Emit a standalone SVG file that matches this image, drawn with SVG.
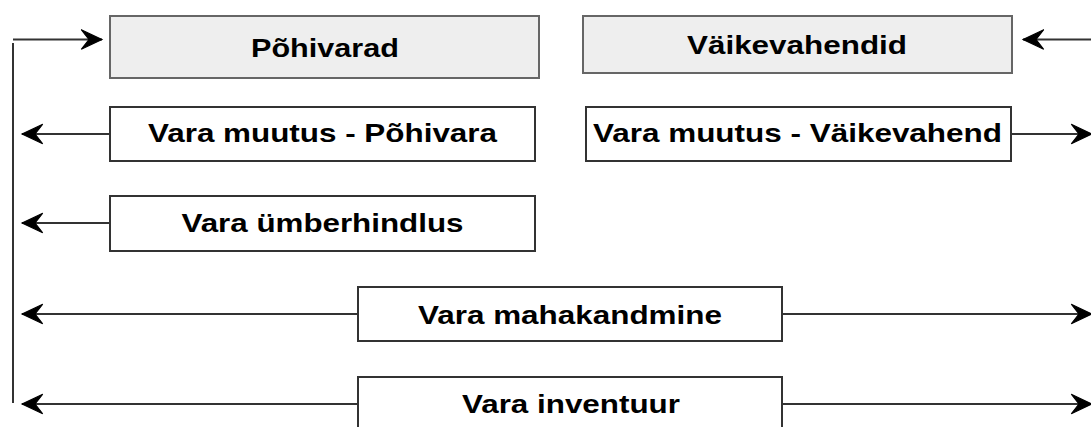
<svg xmlns="http://www.w3.org/2000/svg" width="1091" height="427" viewBox="0 0 1091 427">
<style>
.gray{fill:#eeeeee;stroke:#666666;stroke-width:2}
.white{fill:#ffffff;stroke:#333333;stroke-width:2}
.lbl{font-family:"Liberation Sans",Arial,sans-serif;font-weight:bold;font-size:26px;fill:#000000;text-anchor:middle}
.con{fill:none;stroke:#333333;stroke-width:2}
</style>
<defs>
<marker id="arr" markerUnits="userSpaceOnUse" markerWidth="24" markerHeight="24" viewBox="-20 -10 22 20" refX="0" refY="0" orient="auto">
<path d="M0,0 L-19,-9 L-12,0 L-19,9 Z" fill="#000000" stroke="#000000" stroke-width="1" stroke-linejoin="miter"/>
</marker>
</defs>
<rect width="1091" height="427" fill="#ffffff"/>
<g id="connectors">
<path class="con" d="M13,403 L13,43"/>
<path class="con" d="M13,39.5 L102,39.5" marker-end="url(#arr)"/>
<path class="con" d="M1091,39.5 L1023,39.5" marker-end="url(#arr)"/>
<path class="con" d="M110,134 L22,134" marker-end="url(#arr)"/>
<path class="con" d="M1011,134 L1092,134" marker-end="url(#arr)"/>
<path class="con" d="M110,223 L22,223" marker-end="url(#arr)"/>
<path class="con" d="M358,314 L22,314" marker-end="url(#arr)"/>
<path class="con" d="M782,314 L1092,314" marker-end="url(#arr)"/>
<path class="con" d="M358,404 L22,404" marker-end="url(#arr)"/>
<path class="con" d="M782,404 L1092,404" marker-end="url(#arr)"/>
</g>
<g id="pohivarad">
<rect class="gray" x="110" y="16" width="429" height="62"/>
<text class="lbl" x="325" y="57" textLength="148" lengthAdjust="spacingAndGlyphs">Põhivarad</text>
</g>
<g id="vaikevahendid">
<rect class="gray" x="583" y="16" width="429" height="57"/>
<text class="lbl" x="797" y="54" textLength="220" lengthAdjust="spacingAndGlyphs">Väikevahendid</text>
</g>
<g id="vara-muutus-pohivara">
<rect class="white" x="110" y="107" width="425" height="54"/>
<text class="lbl" x="322.5" y="142" textLength="349" lengthAdjust="spacingAndGlyphs">Vara muutus - Põhivara</text>
</g>
<g id="vara-muutus-vaikevahend">
<rect class="white" x="586" y="107" width="425" height="54"/>
<text class="lbl" x="797.5" y="142" textLength="409" lengthAdjust="spacingAndGlyphs">Vara muutus - Väikevahend</text>
</g>
<g id="vara-umberhindlus">
<rect class="white" x="110" y="196" width="425" height="55"/>
<text class="lbl" x="322.5" y="232" textLength="282" lengthAdjust="spacingAndGlyphs">Vara ümberhindlus</text>
</g>
<g id="vara-mahakandmine">
<rect class="white" x="358" y="287" width="424" height="54"/>
<text class="lbl" x="570" y="324" textLength="304" lengthAdjust="spacingAndGlyphs">Vara mahakandmine</text>
</g>
<g id="vara-inventuur">
<rect class="white" x="358" y="377" width="424" height="54"/>
<text class="lbl" x="571" y="413" textLength="218" lengthAdjust="spacingAndGlyphs">Vara inventuur</text>
</g>
</svg>
